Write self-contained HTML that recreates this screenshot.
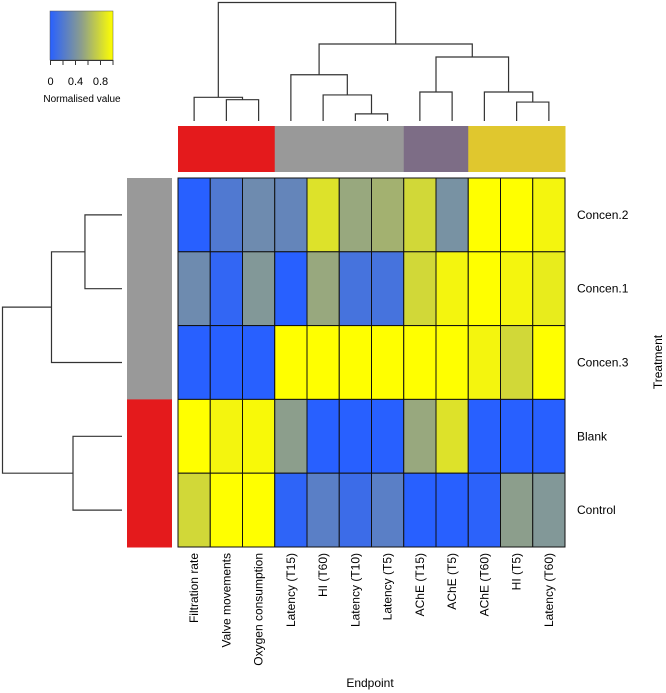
<!DOCTYPE html>
<html><head><meta charset="utf-8"><style>
body{margin:0;background:#fff;}
svg{display:block;font-family:"Liberation Sans",Arial,sans-serif;}
</style></head><body>
<svg id="chart" width="666" height="693" viewBox="0 0 666 693">
<defs><linearGradient id="cg" x1="0" x2="1" y1="0" y2="0">
<stop offset="0" stop-color="#2860ff"/><stop offset="0.5" stop-color="#8c9e8c"/><stop offset="1" stop-color="#ffff00"/></linearGradient></defs>
<g id="legend">
<rect x="50" y="11" width="63" height="49" fill="url(#cg)" stroke="#555" stroke-width="0.5"/>
<path d="M50.5 60V65M63 60V65M75.5 60V65M88 60V65M100.5 60V65M113 60V65M50 60.5H113" stroke="#333" stroke-width="1" fill="none"/>
<text x="50.5" y="85" font-size="11" text-anchor="middle">0</text>
<text x="75.5" y="85" font-size="11" text-anchor="middle">0.4</text>
<text x="100.5" y="85" font-size="11" text-anchor="middle">0.8</text>
<text x="82" y="102" font-size="10" text-anchor="middle">Normalised value</text>
</g>
<g id="cells"></g><g id="ann"></g><g id="dend"></g><g id="labels"></g>
<text x="370" y="687" font-size="12" text-anchor="middle">Endpoint</text>
<text transform="translate(662,362) rotate(-90)" font-size="12" text-anchor="middle">Treatment</text>
</svg>
<script>
const columns=["Filtration rate","Valve movements","Oxygen consumption","Latency (T15)","HI (T60)","Latency (T10)","Latency (T5)","AChE (T15)","AChE (T5)","AChE (T60)","HI (T5)","Latency (T60)"];
const rows=["Concen.2","Concen.1","Concen.3","Blank","Control"];
const rowConcen2=[0,0.2,0.35,0.3,0.85,0.55,0.6,0.8,0.4,1,1,0.95];
const rowConcen1=[0.35,0.05,0.45,0,0.55,0.15,0.15,0.8,0.95,1,0.95,0.9];
const rowConcen3=[0,0,0,1,1,1,1,1,1,0.95,0.8,1];
const rowBlank=[1,0.95,0.97,0.5,0,0,0,0.55,0.85,0,0,0];
const rowControl=[0.8,1,1,0.03,0.25,0.1,0.25,0,0,0.02,0.5,0.45];
const values=[rowConcen2,rowConcen1,rowConcen3,rowBlank,rowControl];
const colGroups=["#e41a1c","#e41a1c","#e41a1c","#999999","#999999","#999999","#999999","#7d6d86","#7d6d86","#e0c72e","#e0c72e","#e0c72e"];
const rowGroups=["#999999","#999999","#999999","#e41a1c","#e41a1c"];
// column dendrogram merges: [leftId,rightId,height(0..1)], leaf ids 0-11, nodes 12+
const colMerges=[[5,6,0.06],[10,11,0.16],[1,2,0.18],[0,14,0.2],[4,12,0.22],[7,8,0.245],[9,13,0.245],[3,16,0.39],[17,18,0.54],[19,20,0.65],[15,21,1]];
const rowMerges=[[0,1,0.31],[3,4,0.41],[5,2,0.59],[7,6,1]];
const X0=178,X1=565,Y0=178,Y1=547,cw=(X1-X0)/columns.length,rh=(Y1-Y0)/rows.length;
const xC=i=>X0+cw*(i+0.5), yR=i=>Y0+rh*(i+0.5);
function col(v){const a=[40,96,255],m=[140,158,140],b=[255,255,0];let p,q,t;if(v<0.5){p=a;q=m;t=v/0.5}else{p=m;q=b;t=(v-0.5)/0.5}
return `rgb(${p.map((c,k)=>Math.round(c+(q[k]-c)*t)).join(",")})`;}
const NS="http://www.w3.org/2000/svg";
function mk(tag,at,parent){const e=document.createElementNS(NS,tag);for(const k in at)e.setAttribute(k,at[k]);document.getElementById(parent).appendChild(e);return e;}
values.forEach((r,ri)=>r.forEach((v,ci)=>{
 const e=mk("rect",{x:X0+cw*ci,y:Y0+rh*ri,width:cw,height:rh,fill:col(v),stroke:"#111","stroke-width":1},"cells");
 
 
}));
colGroups.forEach((c,i)=>{const e=mk("rect",{x:X0+cw*i,y:126,width:cw+0.5,height:46,fill:c},"ann");
 
 });
rowGroups.forEach((c,i)=>{const e=mk("rect",{x:127,y:Y0+rh*i,width:45,height:rh+0.5,fill:c},"ann");
 
 });
const hy=h=>121-h*118.5;
let pos=columns.map((_,i)=>xC(i)),ht=columns.map(()=>0),d="";
colMerges.forEach(([a,b,h])=>{const y=hy(h);d+=`M${pos[a]} ${hy(ht[a])}V${y}H${pos[b]}V${hy(ht[b])}`;pos.push((pos[a]+pos[b])/2);ht.push(h);});
const cd=mk("path",{d:d,fill:"none",stroke:"#333","stroke-width":1.2},"dend");


const hx=h=>122-h*119.5;
let rp=rows.map((_,i)=>yR(i)),rht=rows.map(()=>0),d2="";
rowMerges.forEach(([a,b,h])=>{const x=hx(h);d2+=`M${hx(rht[a])} ${rp[a]}H${x}V${rp[b]}H${hx(rht[b])}`;rp.push((rp[a]+rp[b])/2);rht.push(h);});
const rd=mk("path",{d:d2,fill:"none",stroke:"#333","stroke-width":1.2},"dend");


rows.forEach((r,i)=>{const t=mk("text",{x:577,y:yR(i)+4,"font-size":12},"labels");t.textContent=r;
 
 });
columns.forEach((c,i)=>{const x=xC(i)+4;const t=mk("text",{transform:`translate(${x},553) rotate(-90)`,"font-size":12,"text-anchor":"end"},"labels");t.textContent=c;
 
 });
</script>
</body></html>
